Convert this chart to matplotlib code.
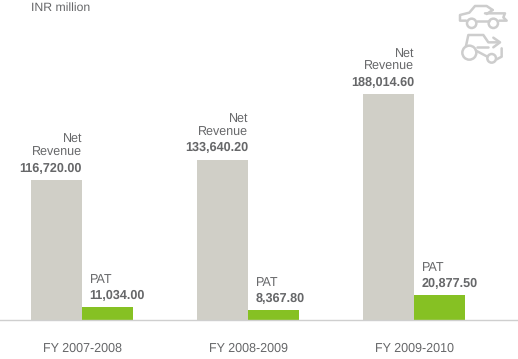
import numpy as np
import matplotlib.pyplot as plt
from matplotlib.patches import Circle

plt.rcParams['font.family'] = ['Liberation Sans', 'DejaVu Sans']
plt.rcParams['text.hinting'] = 'none'

# dados do grafico
anos = ['FY 2007-2008', 'FY 2008-2009', 'FY 2009-2010']
net_revenue = [116720.00, 133640.20, 188014.60]
pat = [11034.00, 8367.80, 20877.50]

COR_REV = '#d0cfc7'
COR_PAT = '#86c123'
COR_TXT = '#666769'
COR_ICO = '#cdcdcd'

L, A = 518, 359
fig = plt.figure(figsize=(L / 100, A / 100), dpi=100)

# eixo principal: base das barras em y=320 px
ax = fig.add_axes([0, (A - 320) / A, 1, 320 / A])
ax.set_xlim(-82 / 166, (L - 82) / 166)
ax.set_ylim(0, 320 / 0.0012)

x = np.arange(len(anos))
larg = 51 / 166
ax.bar(x - larg / 2, net_revenue, larg, color=COR_REV, zorder=2)
ax.bar(x + larg / 2, pat, larg, color=COR_PAT, zorder=2)

for s in ['top', 'left', 'right']:
    ax.spines[s].set_visible(False)
ax.spines['bottom'].set_color('#cfcfcf')
ax.spines['bottom'].set_linewidth(1.0)
ax.set_yticks([])
ax.set_xticks(x)
ax.set_xticklabels(anos, fontsize=9.0, color=COR_TXT)
ax.tick_params(axis='x', length=0, pad=16.5)

for i in x:
    ax.annotate(f'{net_revenue[i]:,.2f}', (i, net_revenue[i]), xytext=(0, 4),
                textcoords='offset points', ha='right', va='bottom',
                fontsize=9.1, fontweight='bold', color=COR_TXT)
    ax.annotate('Net\nRevenue', (i, net_revenue[i]), xytext=(0, 15.5),
                textcoords='offset points', ha='right', va='bottom',
                fontsize=9.0, color=COR_TXT, linespacing=1.05)
    ax.annotate(f'{pat[i]:,.2f}', (i, pat[i]), xytext=(5.5, 4),
                textcoords='offset points', ha='left', va='bottom',
                fontsize=9.1, fontweight='bold', color=COR_TXT)
    ax.annotate('PAT', (i, pat[i]), xytext=(5.5, 15),
                textcoords='offset points', ha='left', va='bottom',
                fontsize=9.0, color=COR_TXT)

fig.text(31 / L, 1 - 7.5 / A, 'INR million', fontsize=8.8, color=COR_TXT,
         ha='left', va='center')

# icones (coordenadas em pixels)
ic = fig.add_axes([0, 0, 1, 1], facecolor='none')
ic.set_xlim(0, L)
ic.set_ylim(A, 0)
ic.axis('off')

def linha(pts):
    xs = [440 + p[0] / 3 for p in pts]
    ys = [p[1] / 3 for p in pts]
    ic.plot(xs, ys, color=COR_ICO, lw=1.8, solid_joinstyle='round', solid_capstyle='round')

def roda(cx, cy, r):
    ic.add_patch(Circle((440 + cx / 3, cy / 3), r / 3, fill=False, ec=COR_ICO, lw=1.8))

# carro
linha([(78, 62), (60, 62), (60, 45), (88, 38), (105, 18), (140, 18), (158, 30)])
linha([(140, 42), (158, 30)])
linha([(135, 40), (195, 40), (190, 52), (200, 62), (178, 62)])
linha([(110, 62), (146, 62)])
roda(95, 70, 14)
roda(160, 70, 14)

# trator
linha([(78, 138), (85, 105), (130, 105), (145, 127), (178, 127)])
linha([(160, 113), (180, 127), (160, 142)])
linha([(110, 142), (145, 142)])
linha([(108, 152), (142, 170)])
linha([(185, 145), (185, 170), (170, 178)])
roda(88, 158, 21)
roda(155, 175, 13)

fig.savefig('out.png', dpi=100)
